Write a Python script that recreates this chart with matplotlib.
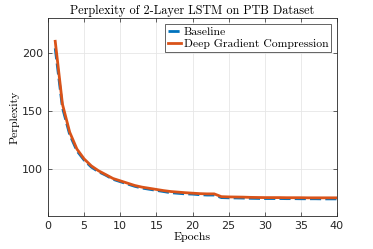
import matplotlib
matplotlib.use("Agg")
import matplotlib.pyplot as plt
import numpy as np

# perplexity per epoch
epochs = list(range(1, 41))
baseline = [204, 153, 130, 116, 108, 102, 98, 95, 91.5, 89.5,
            87.5, 85.5, 84, 83, 82, 81, 80, 79.5, 79, 78.8,
            78.3, 78, 78, 75.8, 75.6, 75.5, 75.4, 75.2, 75.1, 75,
            75, 75, 74.9, 74.9, 74.8, 74.8, 74.8, 74.7, 74.7, 74.7]
dgc = [210, 156, 132, 117.5, 109, 103, 98.8, 95.5, 92.2, 90.2,
       88.2, 86.2, 84.8, 83.8, 82.8, 81.8, 81, 80.5, 80, 79.6,
       79.2, 79, 79, 76.6, 76.4, 76.3, 76.2, 76, 75.9, 75.8,
       75.8, 75.8, 75.7, 75.7, 75.7, 75.6, 75.6, 75.6, 75.6, 75.6]

blue = (0, 0.447, 0.741)
orange = (0.85, 0.325, 0.098)
serif = 'cmr10'

fig = plt.figure(figsize=(3.73, 2.49), dpi=100)
ax = fig.add_axes([48/373, 1 - 216/249, 289/373, 198/249])

ax.plot(epochs, baseline, color=blue, lw=2, ls=(0, (4, 1.5)), label='Baseline')
ax.plot(epochs, dgc, color=orange, lw=2, label='Deep Gradient Compression')

ax.set_xlim(0, 40)
ax.set_ylim(60, 230)
ax.set_xticks(range(0, 41, 5))
ax.set_yticks([100, 150, 200])
ax.grid(True, color='#e6e6e6', lw=0.6)
ax.set_axisbelow(True)
ax.tick_params(direction='in', length=3, width=0.5, labelsize=8,
               colors='#262626', top=True, right=True)
for s in ax.spines.values():
    s.set_linewidth(0.6)
    s.set_color('#262626')

ax.set_title('Perplexity of 2-Layer LSTM on PTB Dataset', fontfamily=serif,
             fontsize=8.8, pad=3)
ax.set_xlabel('Epochs', fontfamily=serif, fontsize=8.5, labelpad=1)
ax.set_ylabel('Perplexity', fontfamily=serif, fontsize=8.5, labelpad=2)

leg = ax.legend(loc='upper right', prop={'family': serif, 'size': 8.4},
                fancybox=False, edgecolor='#262626', framealpha=1,
                handlelength=1.1, handletextpad=0.25, borderpad=0.25,
                labelspacing=0.15, borderaxespad=0.5)
leg.get_frame().set_linewidth(0.5)

fig.savefig('out.png', dpi=100)
